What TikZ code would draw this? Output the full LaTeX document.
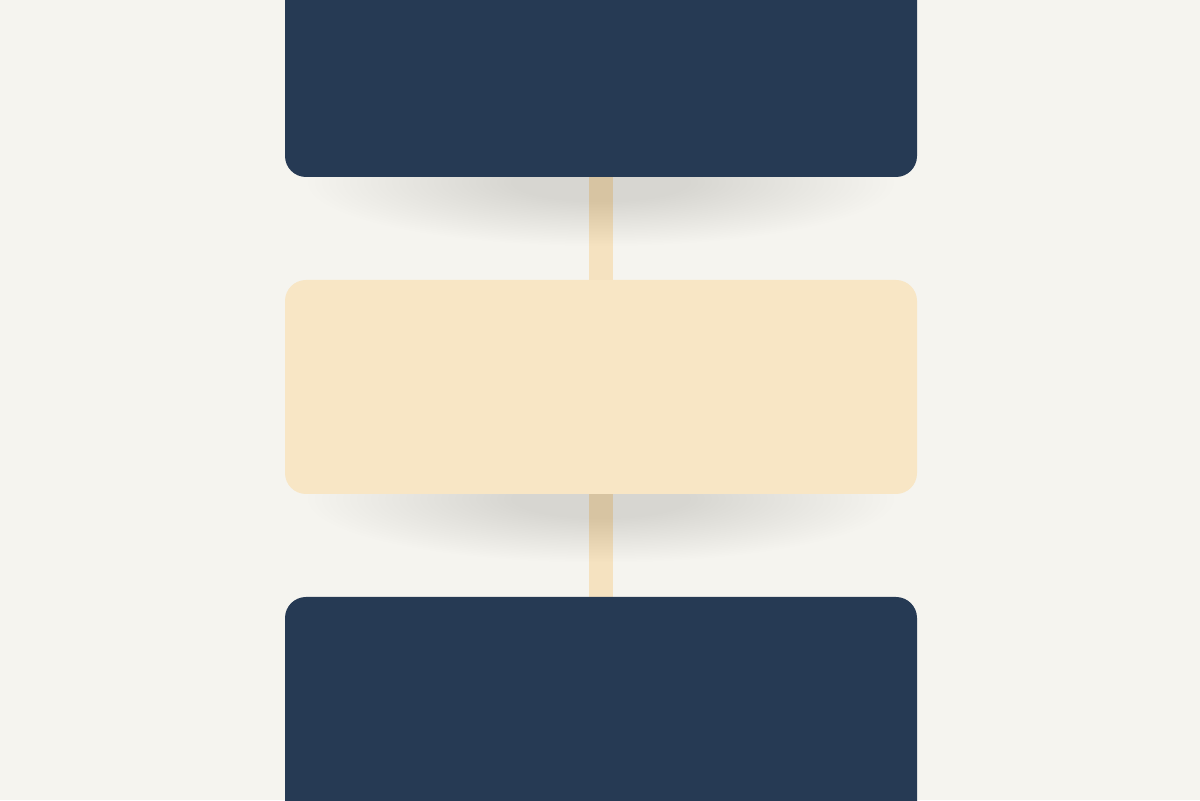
\documentclass[tikz,border=0pt]{standalone}
\usetikzlibrary{positioning}

\definecolor{navy}{RGB}{38,58,84}
\definecolor{cream}{RGB}{248,230,197}
\definecolor{stem}{RGB}{245,226,192}
\definecolor{paper}{RGB}{245,244,239}

\pgfdeclarelayer{bg}    % background layer
\pgfsetlayers{bg,main}  % main is the standard layer

\begin{document}
\begin{tikzpicture}[
	box/.style = {rectangle, rounded corners=0.42cm, minimum width=\w cm, inner sep=0pt},
	dark/.style = {box, fill=navy},
	light/.style = {box, fill=cream},
	link/.style = {stem, line width=0.48cm}
]
%
%Masse

\def \w {12.64}
\def \xm {12.02}

\clip (0,0) rectangle (24,16);

\begin{pgfonlayer}{bg}
	\fill [paper] (0,0) rectangle (24,16);
\end{pgfonlayer}

%Koordinaten
\coordinate (cTop) at (\xm,14.98);
\coordinate (cMid) at (\xm,8.26);
\coordinate (cBot) at (\xm,1.53);

\coordinate (sTop) at (\xm,12.35);
\coordinate (sMid) at (\xm,6.02);

%Schatten
\foreach \s in {sTop,sMid}{
	\foreach \k in {1,...,30}{
		\fill [black, opacity=0.0042] (\s) ellipse ({6.0-0.14*\k} and {1.3-0.03*\k});
	}
}

%Kaesten
\node [dark, minimum height=5.04cm] (top) at (cTop) {};
\node [light, minimum height=4.28cm] (mid) at (cMid) {};
\node [dark, minimum height=5.06cm] (bot) at (cBot) {};

%Verbindungen
\begin{pgfonlayer}{bg}
	\draw [link] (top.south) -- (mid.north);
	\draw [link] (mid.south) -- (bot.north);
\end{pgfonlayer}

\end{tikzpicture}
\end{document}
